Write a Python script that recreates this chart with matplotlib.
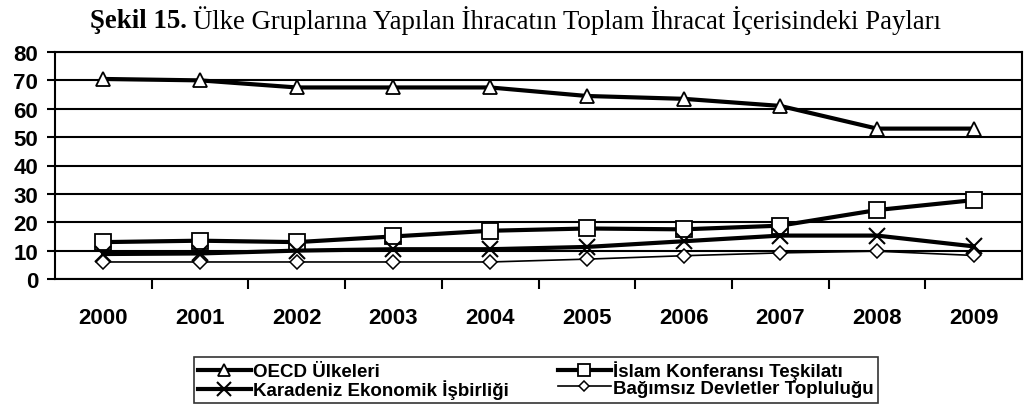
import numpy as np
import matplotlib
matplotlib.use("Agg")
import matplotlib.pyplot as plt

years = ["2000", "2001", "2002", "2003", "2004", "2005", "2006", "2007", "2008", "2009"]
oecd = [70.5, 70, 67.5, 67.5, 67.5, 64.5, 63.5, 61, 53, 53]
islam = [13, 13.5, 13, 15, 17, 17.8, 17.5, 18.8, 24.3, 27.8]
karadeniz = [8.8, 9, 10, 10.5, 10.5, 11.3, 13.3, 15.3, 15.3, 11.5]
bagimsiz = [6, 6, 6, 6, 6, 7, 8.2, 9.2, 9.8, 8.3]
series_names = ["OECD Ülkeleri", "İslam Konferansı Teşkilatı",
                "Karadeniz Ekonomik İşbirliği", "Bağımsız Devletler Topluluğu"]

sans = ["Liberation Sans", "DejaVu Sans"]
serif = ["Liberation Serif", "DejaVu Serif"]

fig = plt.figure(figsize=(10.3, 4.1), dpi=100)
ax = fig.add_axes([55 / 1030, 130 / 410, 967 / 1030, 227 / 410])

x = np.arange(len(years))
h1, = ax.plot(x, oecd, color="black", lw=3, marker="^", ms=10, mfc="white", mec="black", mew=1.3)
h2, = ax.plot(x, islam, color="black", lw=3, marker="s", ms=11, mfc="white", mec="black", mew=1.3)
h3, = ax.plot(x, karadeniz, color="black", lw=3, marker="x", ms=12, mec="black", mew=1.5)
h4, = ax.plot(x, bagimsiz, color="black", lw=1.2, marker="D", ms=7, mfc="white", mec="black", mew=1.1)

ax.set_xlim(-0.5, len(years) - 0.5)
ax.set_ylim(0, 80)
ax.set_yticks(np.arange(0, 81, 10))
ax.grid(axis="y", color="black", lw=1.5)
ax.set_axisbelow(True)
for s in ax.spines.values():
    s.set_linewidth(1.5)

ax.set_xticks(x)
ax.set_xticklabels(years, fontsize=16, fontweight="bold", family=sans)
ax.tick_params(axis="x", which="major", length=0, pad=20)
ax.set_xticks(np.arange(0.5, len(years) - 0.5, 1), minor=True)
ax.tick_params(axis="x", which="minor", length=7, width=1.5, direction="out")
ax.tick_params(axis="y", length=6, width=1.5, direction="out", pad=6)
for lab in ax.get_yticklabels():
    lab.set_fontsize(16)
    lab.set_fontweight("bold")
    lab.set_family(sans)

# reference fills rows first: OECD, Islam / Karadeniz, Bagimsiz
leg = fig.legend([h1, h3, h2, h4],
                 [series_names[0], series_names[2], series_names[1], series_names[3]],
                 ncol=2, loc="center", bbox_to_anchor=(536 / 1030, 1 - 381 / 410),
                 prop={"family": sans, "weight": "bold", "size": 13.5},
                 frameon=True, fancybox=False, edgecolor="black",
                 handlelength=2.8, handletextpad=0.15, columnspacing=2.6,
                 labelspacing=-0.05, borderpad=0.2, borderaxespad=0, markerscale=0.8)
leg.get_frame().set_linewidth(1.2)

fig.text(187 / 1030, 1 - 21 / 410, "Şekil 15.", ha="right", va="center",
         fontsize=19.3, fontweight="bold", family=serif)
fig.text(193 / 1030, 1 - 21 / 410, "Ülke Gruplarına Yapılan İhracatın Toplam İhracat İçerisindeki Payları",
         ha="left", va="center", fontsize=19.3, family=serif)

fig.savefig("out.png", dpi=100)
